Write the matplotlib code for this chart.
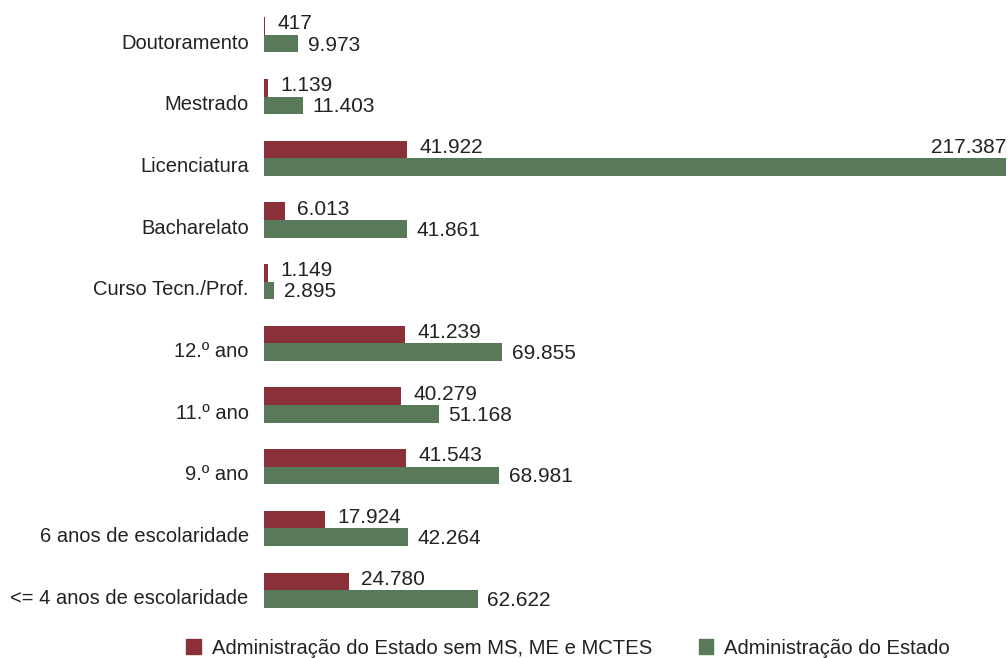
import numpy as np
import matplotlib.pyplot as plt
from matplotlib.patches import Patch
from matplotlib.transforms import ScaledTranslation

plt.rcParams['font.family'] = ['Liberation Sans', 'DejaVu Sans']

categorias = ["Doutoramento", "Mestrado", "Licenciatura", "Bacharelato",
              "Curso Tecn./Prof.", "12.º ano", "11.º ano", "9.º ano",
              "6 anos de escolaridade", "<= 4 anos de escolaridade"]
sem_ms_me_mctes = [417, 1139, 41922, 6013, 1149, 41239, 40279, 41543, 17924, 24780]
adm_estado = [9973, 11403, 217387, 41861, 2895, 69855, 51168, 68981, 42264, 62622]

cor_vermelho = "#8A3038"
cor_verde = "#587A58"
cor_texto = "#222222"


def fmt(v):
    return f"{v:,}".replace(",", ".")


fig = plt.figure(figsize=(10.08, 6.58), dpi=100)
ax = fig.add_axes([264 / 1008, 1 - 621 / 658, 742 / 1008, 617 / 658])

y = np.arange(len(categorias))
h = 0.285
ax.barh(y - h / 2, sem_ms_me_mctes, height=h, color=cor_vermelho)
ax.barh(y + h / 2, adm_estado, height=h, color=cor_verde)

xmax = max(adm_estado)
ax.set_xlim(0, xmax)
ax.set_ylim(len(categorias) - 0.5, -0.5)

for i, (a, b) in enumerate(zip(sem_ms_me_mctes, adm_estado)):
    ax.annotate(fmt(a), (a, i - h / 2), xytext=(9, 1.5), textcoords="offset points",
                va="center", ha="left", fontsize=15, color=cor_texto)
    if b == xmax:
        # a barra maior ocupa toda a largura: rótulo por cima, alinhado à direita
        ax.annotate(fmt(b), (b, i - h / 2), xytext=(0, 1.5), textcoords="offset points",
                    va="center", ha="right", fontsize=15, color=cor_texto)
    else:
        ax.annotate(fmt(b), (b, i + h / 2), xytext=(7, -1), textcoords="offset points",
                    va="center", ha="left", fontsize=15, color=cor_texto)

ax.set_yticks(y)
ax.set_yticklabels(categorias, fontsize=14.5, color=cor_texto)
ax.tick_params(axis="y", length=0, pad=11)
desloc = ScaledTranslation(0, -4.5 / 72, fig.dpi_scale_trans)
for lbl in ax.get_yticklabels():
    lbl.set_transform(lbl.get_transform() + desloc)
ax.set_xticks([])
for s in ax.spines.values():
    s.set_visible(False)

handles = [Patch(color=cor_vermelho, label="Administração do Estado sem MS, ME e MCTES"),
           Patch(color=cor_verde, label="Administração do Estado")]
fig.legend(handles=handles, loc="center", bbox_to_anchor=(568 / 1008, 1 - 648 / 658),
           ncol=2, frameon=False, fontsize=14.6, handlelength=0.7, handleheight=0.7,
           handletextpad=0.55, columnspacing=2.3, labelcolor=cor_texto,
           borderpad=0, borderaxespad=0)

fig.savefig("out.png", dpi=100)
